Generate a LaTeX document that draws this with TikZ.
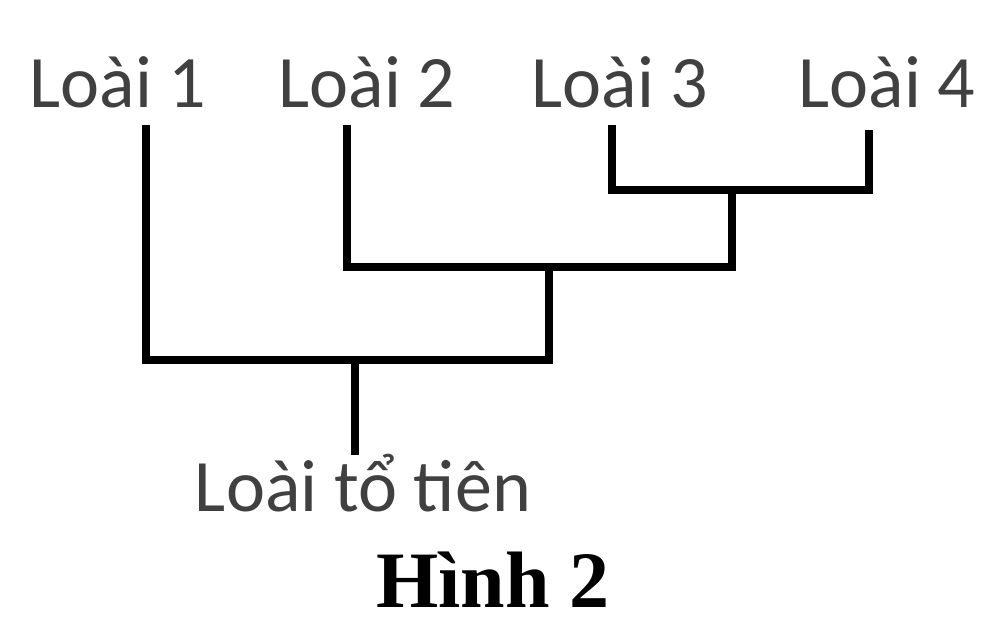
\documentclass[tikz,border=0pt]{standalone}
\usepackage{fontspec}
\setmainfont{Carlito}
\newfontfamily\capfont{Liberation Serif}
\usetikzlibrary{positioning}

\begin{document}
\begin{tikzpicture}[x=0.5pt,y=-0.5pt,
    taxon/.style={anchor=base,inner sep=0pt,text=black!75,font=\fontsize{37}{40}\selectfont},
    branch/.style={draw,line width=3.8pt,black}]

  \useasboundingbox (0,0) rectangle (1002,640);

  \node [taxon] (l1) at (118,108) {Loài 1};
  \node [taxon] (l2) at (367,108) {Loài 2};
  \node [taxon] (l3) at (620,108) {Loài 3};
  \node [taxon] (l4) at (887,108) {Loài 4};
  \node [taxon] (anc) at (363,512) {Loài tổ tiên};
  \node [anchor=base,inner sep=0pt,font=\capfont\bfseries\fontsize{40}{44}\selectfont]
    (fig) at (493,608) {Hình 2};

  \coordinate (t1) at (146,125);
  \coordinate (t2) at (347,125);
  \coordinate (t3) at (612,125);
  \coordinate (t4) at (869,130);
  \coordinate (j34) at (732,190);
  \coordinate (j234) at (549,267);
  \coordinate (j1234) at (355,360);
  \coordinate (root) at (355,455);

  \path [branch] (t3) |- (j34) -| (t4);
  \path [branch] (t2) |- (j234) -| (j34);
  \path [branch] (t1) |- (j1234) -| (j234);
  \path [branch] (j1234) -- (root);

\end{tikzpicture}
\end{document}
